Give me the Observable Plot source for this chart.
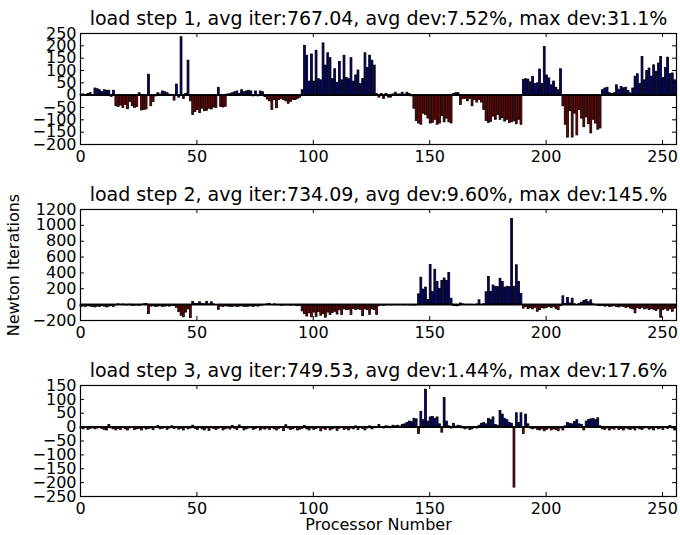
<!DOCTYPE html>
<html><head><meta charset="utf-8">
<script src="https://cdn.jsdelivr.net/npm/d3@7"></script>
<script src="https://cdn.jsdelivr.net/npm/@observablehq/plot@0.6"></script>
<style>
body{margin:0;background:#fff;}
#chart{position:relative;width:680px;height:535px;background:#fff;}
#chart svg{position:absolute;left:0;}
</style>
</head><body><div id="chart"></div>
<script>
const titles = [
  "load step 1, avg iter:767.04, avg dev:7.52%, max dev:31.1%",
  "load step 2, avg iter:734.09, avg dev:9.60%, max dev:145.%",
  "load step 3, avg iter:749.53, avg dev:1.44%, max dev:17.6%"
];
const yLabel = "Newton Iterations";
const xLabel = "Processor Number";
const xTicks = [0, 50, 100, 150, 200, 250];
const yTicks1 = [-200, -150, -100, -50, 0, 50, 100, 150, 200, 250];
const yTicks2 = [-200, 0, 200, 400, 600, 800, 1000, 1200];
const yTicks3 = [-250, -200, -150, -100, -50, 0, 50, 100, 150];

// deviation from average iterations, processors 0..255
const step1 = [
  2, 3, 1, 5, 8, -2, 27, 24, 20, 13, 20, 18, 18, -7, 18, -45,
  -48, -42, -52, -40, -57, -27, -45, -52, -48, 8, -62, -60, -58, 83, -45, -28,
  -5, 8, 3, 15, 12, 8, 2, -3, -22, 43, -10, 235, -15, 5, 140, -25,
  -80, -68, -60, -73, -55, -65, -63, -55, -58, -50, -52, 30, -48, -50, -47, 3,
  5, 8, 12, 15, 5, 20, 12, 15, 18, 15, -5, 15, -5, 15, 12, -8,
  -18, -25, -60, -20, -53, -20, -15, -20, -25, -35, -27, -20, -20, -15, -10, 20,
  200, 160, 55, 165, 55, 180, 65, 60, 210, 120, 170, 150, 65, 105, 50, 135,
  60, 160, 70, 65, 150, 55, 80, 100, 45, 65, 170, 110, 160, 140, 120, 5,
  -10, 5, -15, 5, -10, -10, 3, 10, 3, 3, 10, 2, 10, 5, -5, -55,
  -105, -115, -120, -75, -80, -95, -115, -112, -100, -120, -115, -85, -110, -95, -110, -115,
  5, 8, 8, -40, -15, -15, -25, -15, -45, -20, -30, -20, -30, -60, -105, -113,
  -108, -87, -100, -80, -100, -93, -107, -100, -113, -110, -106, -118, -100, -120, 62, 65,
  63, 52, 74, 45, 48, 104, 45, 195, 80, 68, 40, 55, 30, 20, 105, -45,
  -120, -172, -65, -172, -75, -163, -60, -95, -130, -90, -118, -155, -100, -115, -140, -135,
  20, 27, 30, 8, 5, 8, 40, 22, 33, 28, 30, 18, 7, 27, 75, 85,
  45, 155, 60, 98, 108, 75, 121, 95, 128, 155, 70, 110, 152, 85, 88, 60
];
const step2 = [
  -30, -25, -30, -20, -25, -30, -35, -25, -30, -20, -25, -35, -25, -20, -30, -5,
  5, -5, 3, -8, -10, 2, -15, -12, -10, -15, -5, 5, 8, -120, -25, -20,
  -30, -25, -20, -30, -25, -20, -25, -15, -20, -40, -95, -140, -160, -100, -60, -170,
  35, 10, 8, 30, 10, 5, 35, 5, 30, 5, 0, -65, -25, -30, -20, -25,
  -30, -28, -22, -30, -25, -20, -28, -30, -25, -22, -30, -20, -25, -15, -10, -5,
  5, 8, 0, 5, -10, -8, -15, -10, -12, -8, -15, -10, -12, -20, -15, -85,
  -120, -150, -110, -160, -100, -155, -95, -140, -120, -165, -100, -130, -105, -90, -125, -70,
  -130, -60, -70, -65, -130, -55, -70, -60, -65, -145, -60, -70, -130, -60, -70, -130,
  -20, -10, -15, -10, -5, -10, -8, -5, -10, -5, -8, -10, -5, -10, -8, -12,
  -10, 130, 340, 190, 215, 60, 500, 160, 440, 285, 200, 300, 330, 300, 400, 75,
  -15, -20, -20, 15, 5, -5, -5, -3, -5, 0, 3, 55, -5, 5, 157, 348,
  160, 242, 225, 220, 327, 285, 215, 225, 220, 1080, 225, 497, 285, 136, -50, -30,
  -55, -45, -60, -40, -90, -70, -45, -50, -40, -30, -45, -30, -55, -70, -20, 105,
  10, 85, 15, 75, 5, 0, 10, 25, 45, 60, 30, 55, 5, -5, -15, -20,
  -15, -25, -20, -30, -25, -20, -30, -35, -25, -30, -40, -35, -50, -60, -110, -45,
  -55, -40, -60, -50, -70, -55, -65, -80, -60, -165, -70, -55, -80, -60, -90, -50
];
const step3 = [
  -5, -8, -3, -10, -6, -4, -8, -5, -3, -7, -10, -12, 8, -5, -8, -12,
  -6, -10, -4, -8, -12, -5, -3, -10, -8, -6, -12, -4, -9, -7, -5, -11,
  -3, 4, -8, -6, -2, -10, -5, 3, -7, -4, -9, -6, -12, -3, -8, -5,
  5, -6, -10, -3, -8, -12, -5, -14, -4, -7, -10, -6, -3, -12, -8, -5,
  -9, 4, -6, -10, 6, -3, -12, -8, -5, -4, -10, -7, -3, -12, -6, -9,
  -5, -10, -4, -8, -12, -6, -3, -14, 7, -5, -10, -8, -4, -12, -9, -6,
  4, -8, -12, -5, -10, -7, -3, -15, -6, -10, -4, -12, -8, -5, -14, -6,
  -3, -10, -6, -12, -5, -8, 3, -10, -4, -7, -12, -5, 3, -8, -4, -2,
  8, -3, -5, 3, 2, -4, 5, 3, 5, 2, 8, 10, 15, 20, 18, 30,
  28, -25, 55, 25, 135, 20, 35, 37, 30, 35, 10, -20, 105, 20, 3, -5,
  12, 2, 5, 3, -5, -8, -5, -10, -8, -3, -5, 5, 12, 15, 10, 30,
  25, 35, 8, 5, 58, 45, 30, 25, 15, 12, -218, 50, 15, 50, -25, 45,
  10, -5, -8, -5, -10, -12, -8, -15, -10, -5, -12, -8, -10, -15, -5, -12,
  3, 15, 12, 10, 18, 25, 10, 8, -12, 20, 25, 28, 30, 25, 32, 3,
  -8, -10, -5, -12, -6, -9, -4, -10, -7, -12, -5, -8, -10, -6, -12, -4,
  -8, -10, -5, -3, -9, -6, -12, -4, -8, -5, -10, -3, -7, 4, -5, -12
];

const POS = "#000080", NEG = "#800000";
const INNER_H = 111, ML = 80, MR = 4, W = 680, MT = 33;
const INNER_W = W - ML - MR;
const fmt = d3.format("d");

function panel(values, title, yDomain, yTicks, mb, extra) {
  const data = values.map((v, i) => ({i, v}));
  return Plot.plot({
    width: W, height: MT + INNER_H + mb,
    marginTop: MT, marginBottom: mb, marginLeft: ML, marginRight: MR,
    x: {domain: [0, 256], axis: null},
    y: {domain: yDomain, axis: null},
    style: {fontFamily: "DejaVu Sans", fontSize: "16px", color: "black", background: "white"},
    marks: [
      Plot.rect(data.filter(d => d.v >= 0), {x1: "i", x2: d => d.i + 0.8, y1: d => 0, y2: "v", fill: POS, stroke: "black", strokeWidth: 0.8}),
      Plot.rect(data.filter(d => d.v < 0), {x1: "i", x2: d => d.i + 0.8, y1: d => 0, y2: "v", fill: NEG, stroke: "black", strokeWidth: 0.8}),
      Plot.ruleY([0], {stroke: "black", strokeWidth: 1.6}),
      Plot.tickX(xTicks, {x: d => d, insetTop: INNER_H - 4, stroke: "black"}),
      Plot.tickX(xTicks, {x: d => d, insetBottom: INNER_H - 4, stroke: "black"}),
      Plot.tickY(yTicks, {y: d => d, insetRight: INNER_W - 4, stroke: "black"}),
      Plot.tickY(yTicks, {y: d => d, insetLeft: INNER_W - 4, stroke: "black"}),
      Plot.axisX(xTicks, {tickSize: 0, tickPadding: 6, fontSize: 16, label: null, tickFormat: fmt}),
      Plot.axisY(yTicks, {tickSize: 0, tickPadding: 4, fontSize: 16, label: null, tickFormat: fmt}),
      Plot.frame({stroke: "black", strokeWidth: 1.2}),
      Plot.text([title], {frameAnchor: "top", dy: -9, lineAnchor: "bottom", fontSize: 19}),
      ...(extra || [])
    ]
  });
}

const chart = document.getElementById("chart");
const p1 = panel(step1, titles[0], [-200, 250], yTicks1, 32);
const p2 = panel(step2, titles[1], [-200, 1200], yTicks2, 32, [
  Plot.text([yLabel], {frameAnchor: "left", textAnchor: "middle", rotate: -90, dx: -67, fontSize: 16})
]);
const p3 = panel(step3, titles[2], [-250, 150], yTicks3, 39, [
  Plot.text([xLabel], {frameAnchor: "bottom", dy: 33, lineAnchor: "bottom", fontSize: 16})
]);
p1.style.top = "0px"; p2.style.top = "176px"; p3.style.top = "352px";
chart.append(p1, p2, p3);
</script></body></html>
